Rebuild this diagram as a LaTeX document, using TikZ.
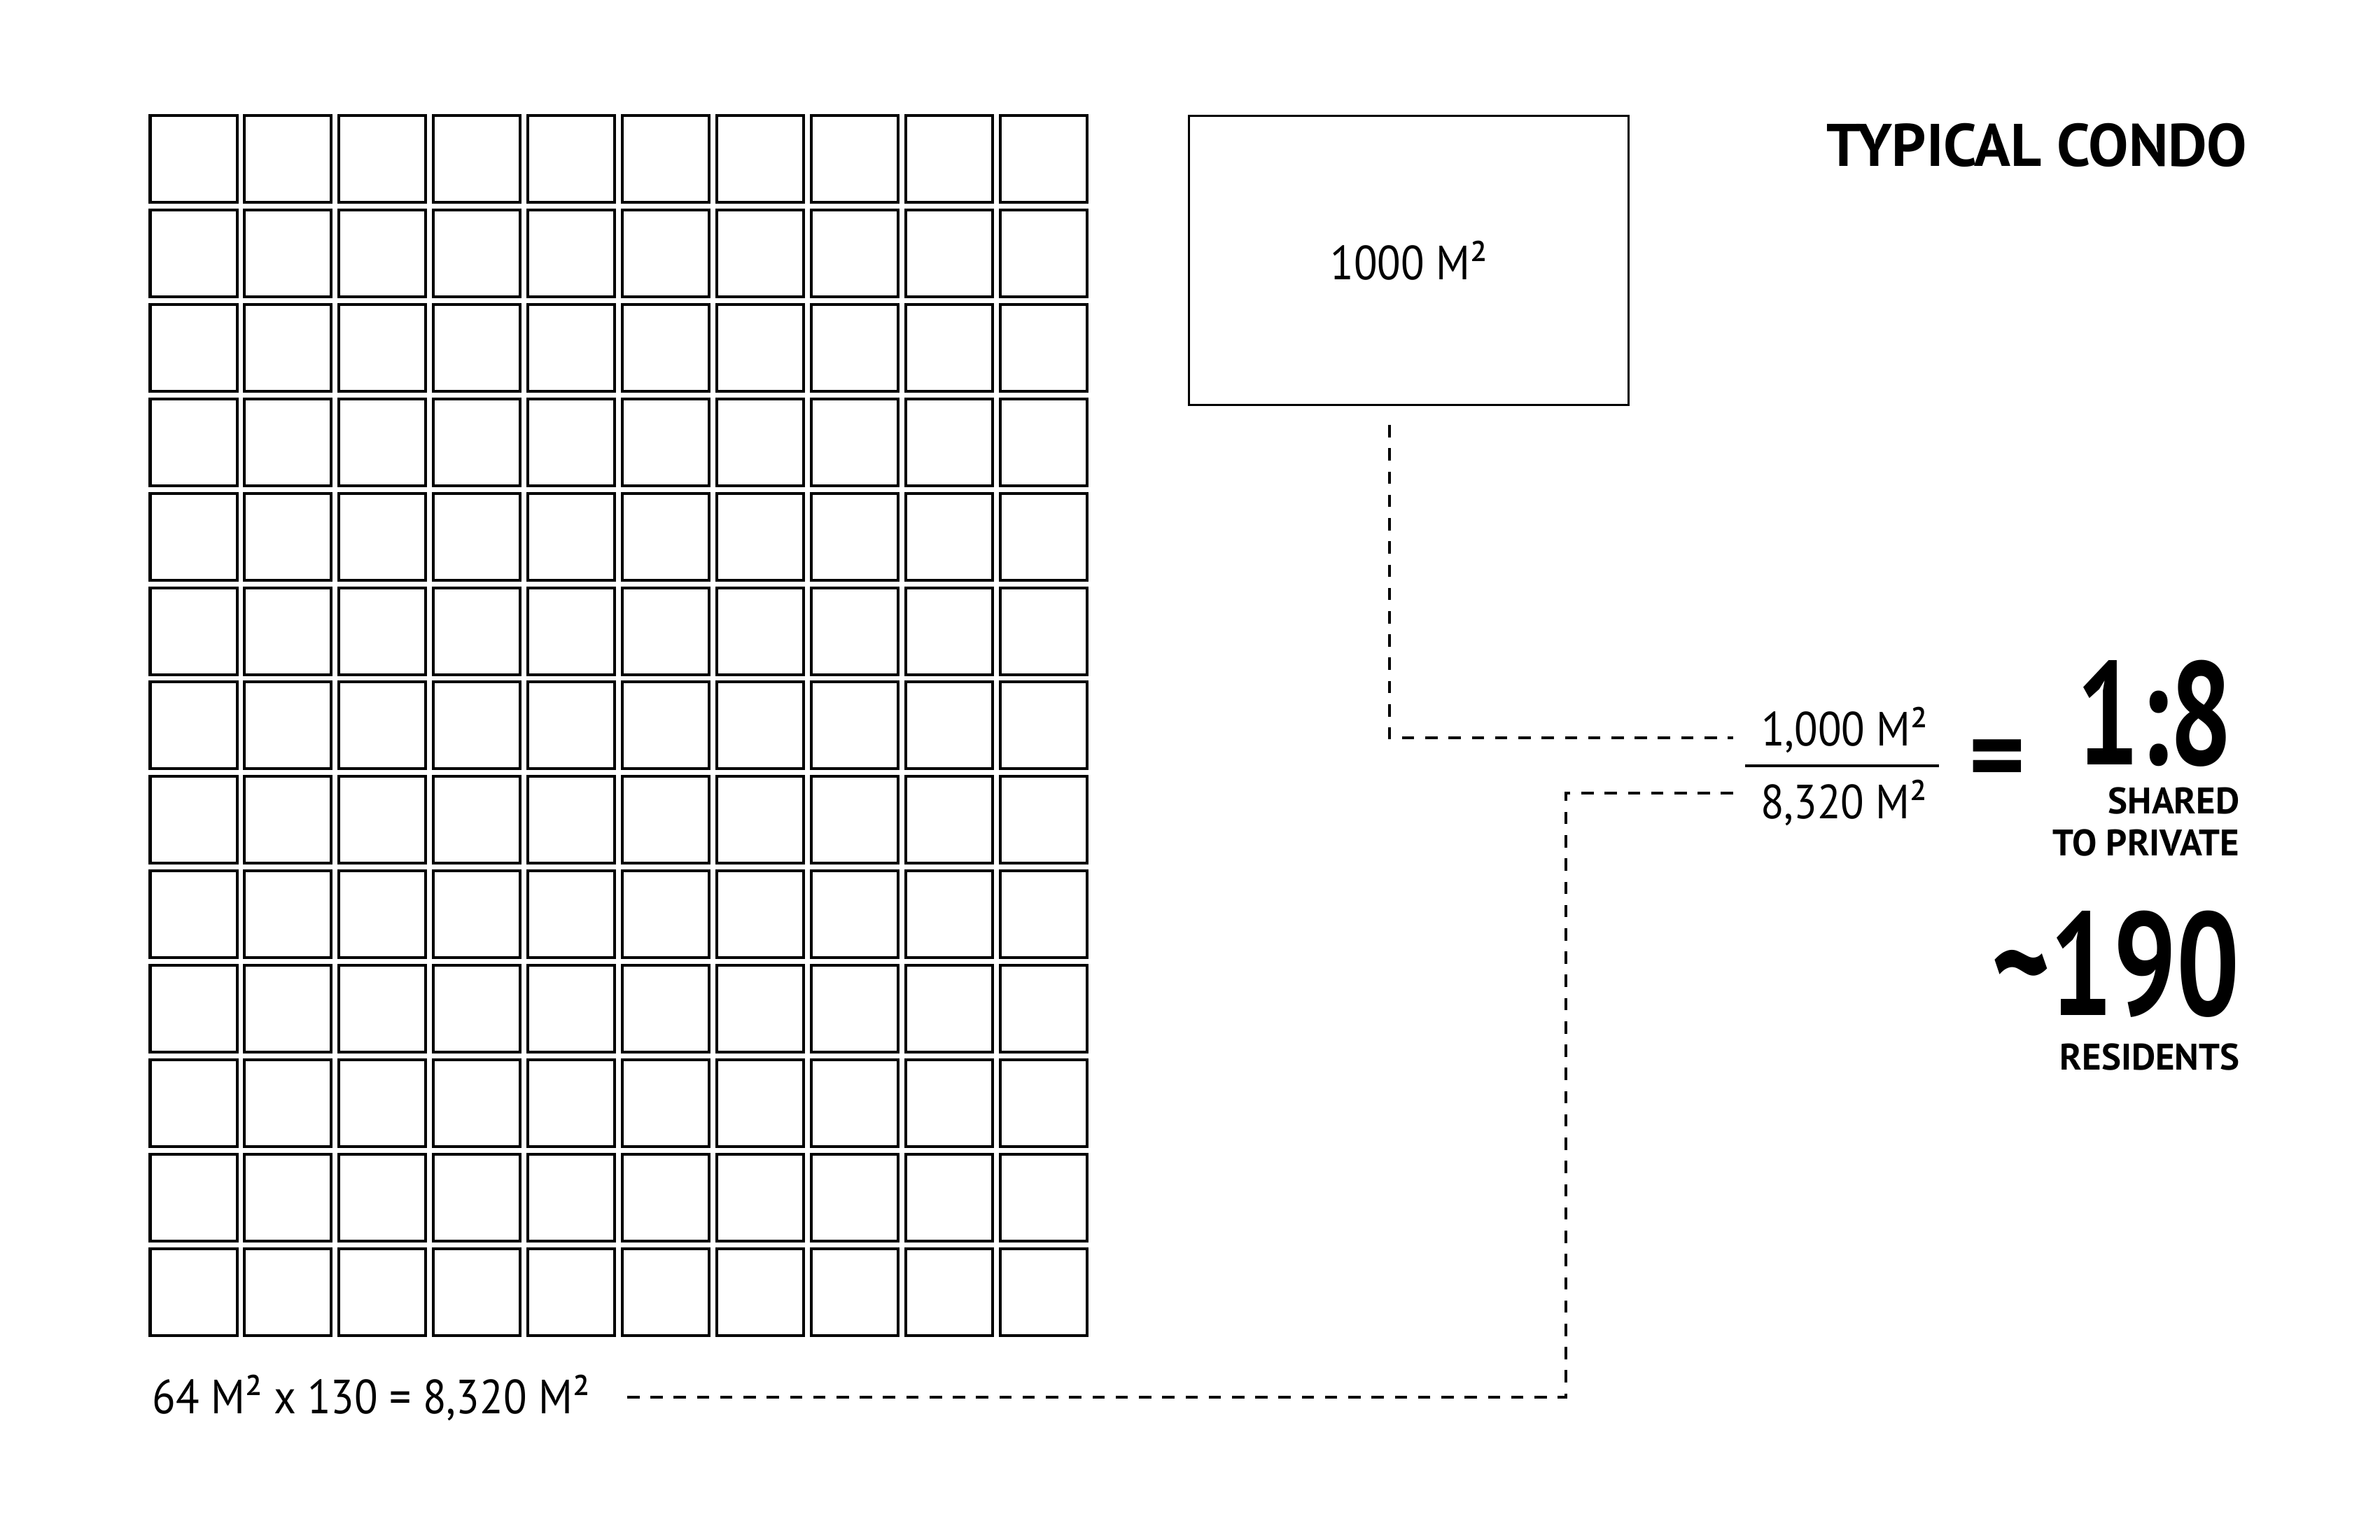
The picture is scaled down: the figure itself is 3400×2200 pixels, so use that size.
\documentclass[tikz,border=0pt]{standalone}
\usepackage{fontspec}
\newfontfamily\lblfont{PT Sans}[FakeStretch=0.9]
\newfontfamily\hdrfont{PT Sans Bold}
\newfontfamily\bignumfont{PT Sans Bold}[FakeStretch=0.76]
\tikzset{
  cell/.style={draw, line width=1.14pt},
  dashline/.style={line width=1.14pt, dash pattern=on 5pt off 4.45pt},
  lbl/.style={inner sep=0pt, font=\lblfont\fontsize{19.5pt}{20pt}\selectfont},
  hdr/.style={inner sep=0pt, font=\hdrfont\fontsize{15pt}{16pt}\selectfont},
  bignum/.style={inner sep=0pt, font=\bignumfont\fontsize{59.5pt}{60pt}\selectfont}
}
\begin{document}
\begin{tikzpicture}[x=0.01cm, y=-0.01cm]
    \useasboundingbox (0,0) rectangle (3400,2200);

    % Private units (10 x 13)
    \foreach \c in {0,...,9}
      \foreach \r in {0,...,12}
        \draw[cell] ({214.5+134.9*\c},{165+134.9*\r}) rectangle ++(124,124);
    \node[lbl, anchor=base west] (sum) at (217,2019) {64 M² x 130 = 8,320 M²};

    % Shared space
    \node[draw, line width=1pt, minimum width=6.275cm, minimum height=4.125cm,
          lbl] (condo) at (2012.5,372) {1000 M²};
    \node[hdr, anchor=base east, font=\hdrfont\fontsize{24.4pt}{25pt}\selectfont]
          (title) at (3211,238) {TYPICAL CONDO};

    % Ratio
    \node[lbl, anchor=base] (numer) at (2635,1065) {1,000 M²};
    \node[lbl, anchor=base] (denom) at (2634,1169) {8,320 M²};
    \coordinate (barL) at (2493,1094);
    \coordinate (barR) at (2770,1094);
    \draw[line width=1.3pt] (barL) -- (barR);
    \node[bignum, font=\hdrfont\fontsize{44pt}{44pt}\selectfont] (eq) at (2853,1095) {=};
    \node[bignum, anchor=base east] (ratio) at (3190,1092) {1:8};
    \node[hdr, anchor=base east] (shared) at (3200,1162) {SHARED};
    \node[hdr, anchor=base east] (toprivate) at (3200,1222) {TO PRIVATE};
    \node[bignum, anchor=base east] (count) at (3200,1450) {\char`\~190};
    \node[hdr, anchor=base east] (residents) at (3200,1528) {RESIDENTS};

    % Connectors
    \coordinate (numin) at (2476,1054);
    \coordinate (denin) at (2476,1133);
    \coordinate (bend) at (2237,1994);
    \draw[dashline] ([xshift=-0.28cm,yshift=-0.27cm]condo.south) |- (numin);
    \draw[dashline] (denin) -| (bend) |- ([xshift=0.43cm]sum.east);
\end{tikzpicture}
\end{document}
